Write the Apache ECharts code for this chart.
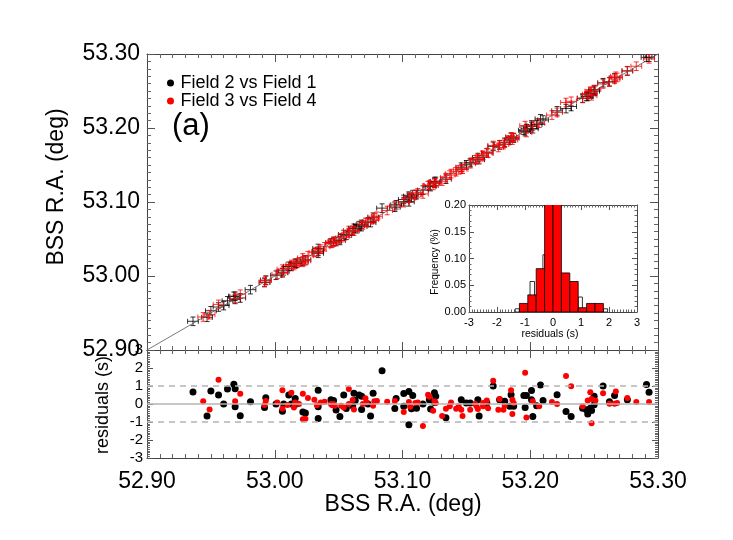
<!DOCTYPE html>
<html>
<head>
<meta charset="utf-8">
<script src="https://cdn.jsdelivr.net/npm/echarts@6/dist/echarts.min.js"></script>
<style>
  html, body { margin: 0; padding: 0; background: #fff; }
  #chart { width: 733px; height: 540px; }
</style>
</head>
<body>
<div id="chart"></div>
<script>
// Field 2 vs Field 1 (black): RA (deg) and residual (s)
var blackRA = [52.936, 52.947, 52.950, 52.956, 52.960, 52.963, 52.968, 52.969, 52.969, 52.973,
  52.981, 52.993, 52.992, 53.001, 53.006, 53.007, 53.011, 53.013, 53.016, 53.017,
  53.022, 53.024, 53.034, 53.034, 53.034, 53.044, 53.046, 53.048, 53.051, 53.054,
  53.056, 53.061, 53.062, 53.063, 53.066, 53.068, 53.068, 53.073, 53.075, 53.077,
  53.084, 53.094, 53.095, 53.101, 53.105, 53.101, 53.105, 53.108, 53.107, 53.111,
  53.116, 53.121, 53.122, 53.125, 53.126, 53.125, 53.134, 53.146, 53.150, 53.153,
  53.159, 53.160, 53.166, 53.171, 53.176, 53.180, 53.184, 53.185, 53.187, 53.195,
  53.197, 53.196, 53.201, 53.202, 53.201, 53.205, 53.208, 53.210, 53.221, 53.228,
  53.232, 53.241, 53.244, 53.245, 53.247, 53.248, 53.250, 53.250, 53.257, 53.262,
  53.266, 53.276, 53.291, 53.293];
var blackRes = [0.67, -0.67, 0.72, 0.5, 0.0, 0.83, 1.1, 0.85, -0.15, -0.65,
  0.13, 0.35, -0.2, 0.0, -0.4, 0.0, 0.5, 0.0, 0.3, 0.0,
  -0.45, -0.5, 0.77, -0.15, -0.8, 0.23, 0.2, -0.33, -0.7, 0.5,
  -0.25, -0.1, 0.6, 0.2, 0.5, 0.43, -0.3, 0.0, -0.67, 0.6,
  1.85, -0.25, 0.3, 0.58, 0.7, -0.13, -1.15, 0.47, -0.26, -0.23,
  0.0, 0.24, -0.28, 0.62, 0.43, 0.09, -0.77, 0.24, 0.06, 0.06,
  0.24, -0.66, 0.06, 1.0, 0.24, 0.15, -0.13, 0.52, -0.13, 0.47,
  0.47, -0.2, 0.75, -0.7, 0.24, -0.1, 1.05, 0.2, 0.52, -0.42,
  -0.7, -0.23, -0.32, -0.55, -0.23, -0.36, 0.43, -0.04, 1.0, 0.13,
  0.47, 0.24, 1.08, 0.65];

// Field 3 vs Field 4 (red)
var redRA = [52.944, 52.949, 52.956, 52.969, 52.973, 52.993, 52.992, 53.002, 53.006, 53.006,
  53.010, 53.013, 53.016, 53.015, 53.019, 53.022, 53.026, 53.022, 53.024, 53.031,
  53.033, 53.036, 53.039, 53.044, 53.046, 53.045, 53.047, 53.052, 53.054, 53.058,
  53.058, 53.061, 53.062, 53.069, 53.071, 53.072, 53.077, 53.078, 53.080, 53.088,
  53.094, 53.101, 53.105, 53.106, 53.110, 53.112, 53.116, 53.120, 53.121, 53.124,
  53.125, 53.126, 53.131, 53.134, 53.137, 53.138, 53.142, 53.144, 53.146, 53.147,
  53.153, 53.157, 53.158, 53.159, 53.163, 53.163, 53.166, 53.167, 53.171, 53.175,
  53.176, 53.179, 53.180, 53.185, 53.186, 53.186, 53.187, 53.196, 53.197, 53.202,
  53.207, 53.217, 53.221, 53.228, 53.232, 53.241, 53.245, 53.247, 53.248, 53.248,
  53.251, 53.257, 53.262, 53.267, 53.266, 53.268, 53.276, 53.283, 53.293];
var redRes = [0.15, -0.3, 1.35, 0.15, 0.57, 0.17, -0.05, 0.08, 0.77, -0.25,
  -0.05, 0.63, 0.08, -0.2, 0.0, 0.57, 0.33, -0.85, -0.82, 0.23,
  -0.07, 0.08, 0.12, 0.0, 0.0, -0.07, -0.1, -0.1, -0.2, 0.83,
  0.0, 0.22, -0.3, 0.0, 0.32, 0.08, -0.1, 0.15, 0.17, 0.13,
  0.17, -0.45, 0.11, -0.15, 0.06, 0.09, -1.22, 0.52, 0.4, -0.38,
  0.15, 0.06, -0.66, -0.26, -0.13, 0.09, -0.26, -0.13, -0.32, -0.66,
  -0.32, 0.0, -0.13, -0.28, -0.13, 0.06, 0.2, -0.23, 1.29, -0.32,
  0.28, -0.32, -0.1, 0.76, 0.24, -0.55, 0.06, 1.73, -0.75, 0.15,
  -0.13, 0.11, 0.0, 1.55, 0.99, -0.13, 0.19, 0.65, 0.28, -1.07,
  0.2, 0.6, 0.02, 0.7, 0.02, 0.06, 0.34, 0.11, 0.11];

// error bar half sizes (deg)
var ERR_X = 0.0042;
var ERR_Y = 0.0058;

// inset histogram
var redLeft = [-1.2, -0.9, -0.6, -0.3, 0.0, 0.3, 0.6, 0.9, 1.2, 1.5];
var redRight = [-0.9, -0.6, -0.3, 0.0, 0.3, 0.6, 0.9, 1.2, 1.5, 1.8];
var redFreq = [0.016, 0.032, 0.081, 0.26, 0.25, 0.073, 0.057, 0.008, 0.016, 0.016];
var blackLeft = [-1.35, -0.82, -0.36, 0.9, 1.8];
var blackRight = [-1.2, -0.66, -0.3, 1.05, 1.95];
var blackFreq = [0.006, 0.057, 0.107, 0.028, 0.006];

var FONT = 'Liberation Sans, Arial, Helvetica, sans-serif';

function zip(a, b) {
  return a.map(function (v, i) { return [v, b[i]]; });
}
function mainPts(ra, res) {
  // residual in seconds of RA -> degrees
  return ra.map(function (v, i) { return [v, v + res[i] / 240]; });
}
function bins(l, r, f) {
  return l.map(function (v, i) { return [v, r[i], f[i]]; });
}

function crossRender(color) {
  return function (params, api) {
    var x = api.value(0), y = api.value(1);
    var c = api.coord([x, y]);
    var l = api.coord([x - ERR_X, y])[0];
    var r = api.coord([x + ERR_X, y])[0];
    var t = api.coord([x, y + ERR_Y])[1];
    var b = api.coord([x, y - ERR_Y])[1];
    var k = 2.5;
    var st = { stroke: color, lineWidth: 0.8, fill: null };
    return {
      type: 'group',
      children: [
        { type: 'line', shape: { x1: l, y1: c[1], x2: r, y2: c[1] }, style: st },
        { type: 'line', shape: { x1: c[0], y1: t, x2: c[0], y2: b }, style: st },
        { type: 'line', shape: { x1: l, y1: c[1] - k, x2: l, y2: c[1] + k }, style: st },
        { type: 'line', shape: { x1: r, y1: c[1] - k, x2: r, y2: c[1] + k }, style: st },
        { type: 'line', shape: { x1: c[0] - k, y1: t, x2: c[0] + k, y2: t }, style: st },
        { type: 'line', shape: { x1: c[0] - k, y1: b, x2: c[0] + k, y2: b }, style: st }
      ]
    };
  };
}

function barRender(fill) {
  return function (params, api) {
    var p0 = api.coord([api.value(0), api.value(2)]);
    var p1 = api.coord([api.value(1), 0]);
    return {
      type: 'rect',
      shape: { x: p0[0], y: p0[1], width: p1[0] - p0[0], height: p1[1] - p0[1] },
      style: { fill: fill, stroke: '#000', lineWidth: 0.8 }
    };
  };
}

function frameAxis(extra, tickLen, minorLen, minorSplit) {
  var ax = {
    type: 'value',
    axisLine: { show: true, onZero: false, lineStyle: { color: '#444', width: 1 } },
    axisTick: { show: true, inside: true, length: tickLen, lineStyle: { color: '#555', width: 1 } },
    minorTick: { show: true, splitNumber: minorSplit, length: minorLen, lineStyle: { color: '#666', width: 1 } },
    splitLine: { show: false },
    minorSplitLine: { show: false },
    axisLabel: { show: false }
  };
  return Object.assign(ax, extra);
}

function label(size, margin, fmt) {
  return {
    show: true, fontSize: size, fontFamily: FONT, color: '#000', margin: margin,
    showMinLabel: true, showMaxLabel: true, formatter: fmt
  };
}

var raFmt = function (v) { return v.toFixed(2); };
var raRange = { min: 52.9, max: 53.3, interval: 0.1 };
var resRange = { min: -3, max: 3, interval: 1 };

var chart = echarts.init(document.getElementById('chart'), null, { renderer: 'canvas' });

var option = {
  animation: false,
  backgroundColor: '#fff',
  grid: [
    { left: 147, top: 54, width: 511, height: 296, outerBoundsMode: 'none' },
    { left: 147, top: 350, width: 511, height: 108, outerBoundsMode: 'none' },
    { left: 469, top: 205, width: 168, height: 107, show: true, backgroundColor: '#fff', borderWidth: 0, z: 5, outerBoundsMode: 'none' }
  ],
  xAxis: [
    frameAxis(Object.assign({ gridIndex: 0, position: 'bottom' }, raRange), 8, 4, 10),
    frameAxis(Object.assign({ gridIndex: 0, position: 'top' }, raRange), 8, 4, 10),
    frameAxis(Object.assign({ gridIndex: 1, position: 'bottom', axisLabel: label(23, 12, raFmt) }, raRange), 8, 4, 10),
    frameAxis(Object.assign({ gridIndex: 1, position: 'top' }, raRange), 8, 4, 10),
    frameAxis({ gridIndex: 2, position: 'bottom', min: -3, max: 3, interval: 1, z: 6,
      axisLabel: label(11, 5, function (v) { return String(v); }) }, 5, 2.5, 10),
    frameAxis({ gridIndex: 2, position: 'top', min: -3, max: 3, interval: 1, z: 6 }, 5, 2.5, 10)
  ],
  yAxis: [
    frameAxis(Object.assign({ gridIndex: 0, position: 'left', axisLabel: label(23, 7, raFmt) }, raRange), 8, 4, 10),
    frameAxis(Object.assign({ gridIndex: 0, position: 'right' }, raRange), 8, 4, 10),
    frameAxis(Object.assign({ gridIndex: 1, position: 'left', axisLabel: label(15, 4, function (v) { return String(v); }) }, resRange), 6, 3, 10),
    frameAxis(Object.assign({ gridIndex: 1, position: 'right' }, resRange), 6, 3, 10),
    frameAxis({ gridIndex: 2, position: 'left', min: 0, max: 0.2, interval: 0.05, z: 6,
      axisLabel: label(11, 3, function (v) { return v.toFixed(2); }) }, 5, 2.5, 5),
    frameAxis({ gridIndex: 2, position: 'right', min: 0, max: 0.2, interval: 0.05, z: 6 }, 5, 2.5, 5)
  ],
  legend: {
    data: ['Field 2 vs Field 1', 'Field 3 vs Field 4'],
    orient: 'vertical',
    left: 167,
    top: 74,
    padding: 0,
    itemGap: 0,
    itemWidth: 10,
    itemHeight: 7,
    icon: 'circle',
    selectedMode: false,
    textStyle: { fontSize: 18, lineHeight: 15, fontFamily: FONT, color: '#000' }
  },
  graphic: [
    { type: 'text', x: 172, y: 126, style: { text: '(a)', font: '31px ' + FONT, fill: '#000', textVerticalAlign: 'middle', verticalAlign: 'middle' } },
    { type: 'text', x: 57, y: 187, rotation: Math.PI / 2,
      style: { text: 'BSS R.A. (deg)', font: '23px ' + FONT, fill: '#000', textAlign: 'center', align: 'center', textVerticalAlign: 'middle', verticalAlign: 'middle' } },
    { type: 'text', x: 103, y: 405, rotation: Math.PI / 2,
      style: { text: 'residuals (s)', font: '18px ' + FONT, fill: '#000', textAlign: 'center', align: 'center', textVerticalAlign: 'middle', verticalAlign: 'middle' } },
    { type: 'text', x: 403, y: 505,
      style: { text: 'BSS R.A. (deg)', font: '23px ' + FONT, fill: '#000', textAlign: 'center', align: 'center', textVerticalAlign: 'middle', verticalAlign: 'middle' } },
    { type: 'text', x: 435, y: 262, rotation: Math.PI / 2, z: 10,
      style: { text: 'Frequency (%)', font: '10px ' + FONT, fill: '#000', textAlign: 'center', align: 'center', textVerticalAlign: 'middle', verticalAlign: 'middle' } },
    { type: 'text', x: 550, y: 334, z: 10,
      style: { text: 'residuals (s)', font: '10.5px ' + FONT, fill: '#000', textAlign: 'center', align: 'center', textVerticalAlign: 'middle', verticalAlign: 'middle' } }
  ],
  series: [
    {
      type: 'line', xAxisIndex: 0, yAxisIndex: 0, silent: true, symbol: 'none',
      data: [[52.9, 52.9], [53.3, 53.3]],
      lineStyle: { color: '#555', width: 0.8 }
    },
    {
      type: 'custom', xAxisIndex: 0, yAxisIndex: 0, clip: true, silent: true,
      data: mainPts(blackRA, blackRes), renderItem: crossRender('#000')
    },
    {
      type: 'custom', xAxisIndex: 0, yAxisIndex: 0, clip: true, silent: true,
      data: mainPts(redRA, redRes), renderItem: crossRender('#ff0000')
    },
    {
      type: 'line', xAxisIndex: 2, yAxisIndex: 2, silent: true, symbol: 'none',
      data: [[52.9, 0], [53.3, 0]], lineStyle: { color: '#b4b4b4', width: 1.5 }
    },
    {
      type: 'line', xAxisIndex: 2, yAxisIndex: 2, silent: true, symbol: 'none',
      data: [[52.9, 1], [53.3, 1]], lineStyle: { color: '#b4b4b4', width: 1.5, type: [6, 5] }
    },
    {
      type: 'line', xAxisIndex: 2, yAxisIndex: 2, silent: true, symbol: 'none',
      data: [[52.9, -1], [53.3, -1]], lineStyle: { color: '#b4b4b4', width: 1.5, type: [6, 5] }
    },
    {
      name: 'Field 2 vs Field 1', type: 'scatter', xAxisIndex: 2, yAxisIndex: 2,
      symbol: 'circle', symbolSize: 7, data: zip(blackRA, blackRes),
      itemStyle: { color: '#000', opacity: 1 }
    },
    {
      name: 'Field 3 vs Field 4', type: 'scatter', xAxisIndex: 2, yAxisIndex: 2,
      symbol: 'circle', symbolSize: 6, data: zip(redRA, redRes),
      itemStyle: { color: '#ff0000', opacity: 1 }
    },
    {
      type: 'custom', xAxisIndex: 4, yAxisIndex: 4, clip: true, silent: true, z: 7,
      data: bins(blackLeft, blackRight, blackFreq), renderItem: barRender('#fff')
    },
    {
      type: 'custom', xAxisIndex: 4, yAxisIndex: 4, clip: true, silent: true, z: 8,
      data: bins(redLeft, redRight, redFreq), renderItem: barRender('#ff0000')
    }
  ]
};

chart.setOption(option);
</script>
</body>
</html>
